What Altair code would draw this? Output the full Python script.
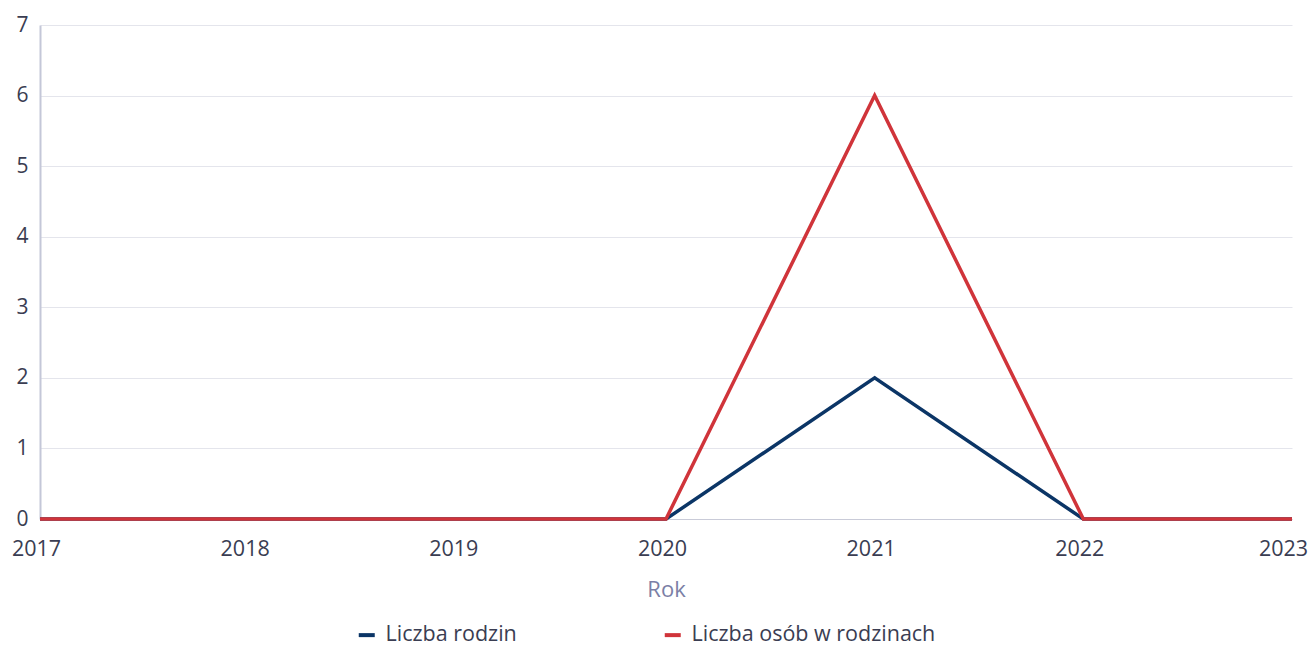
import altair as alt
import pandas as pd

years = [2017, 2018, 2019, 2020, 2021, 2022, 2023]
rodziny = [0, 0, 0, 0, 2, 0, 0]
osoby = [0, 0, 0, 0, 6, 0, 0]
series_names = ["Liczba rodzin", "Liczba osób w rodzinach"]
colors = ["#0b3566", "#d0343a"]

rows = []
for i, y in enumerate(years):
    rows.append({"Rok": y, "Seria": series_names[0], "Wartość": rodziny[i], "o": 0})
for i, y in enumerate(years):
    rows.append({"Rok": y, "Seria": series_names[1], "Wartość": osoby[i], "o": 1})
df = pd.DataFrame(rows)

FONT = "Open Sans"

chart = (
    alt.Chart(df)
    .mark_line(strokeWidth=3.5)
    .encode(
        x=alt.X(
            "Rok:Q",
            scale=alt.Scale(domain=[2017, 2023], nice=False, zero=False),
            axis=alt.Axis(
                title="Rok",
                values=years,
                format="d",
                grid=False,
                ticks=False,
                domain=True,
                domainColor="#c9cbd8",
                labelPadding=19,
                labelFlush=False,
                labelOffset=alt.condition(
                    "datum.value == 2023", alt.value(-9), alt.value(-4)
                ),
                titlePadding=20,
                titleColor="#7b7fa6",
                titleFontWeight="normal",
                titleFontSize=22,
                labelFontSize=21.5,
                labelColor="#3a3d52",
            ),
        ),
        y=alt.Y(
            "Wartość:Q",
            scale=alt.Scale(domain=[0, 7], nice=False),
            axis=alt.Axis(
                title=None,
                values=[0, 1, 2, 3, 4, 5, 6, 7],
                grid=True,
                gridColor="#e4e5ec",
                ticks=False,
                domain=True,
                domainColor="#c4c7d8",
                domainWidth=2,
                labelPadding=12,
                labelFontSize=21,
                labelColor="#3a3d52",
            ),
        ),
        color=alt.Color(
            "Seria:N",
            scale=alt.Scale(domain=series_names, range=colors),
            legend=alt.Legend(
                title=None,
                orient="none",
                legendX=316,
                legendY=599,
                direction="horizontal",
                symbolType="stroke",
                symbolStrokeWidth=4,
                symbolSize=256,
                labelOffset=8,
                labelFontSize=21.5,
                labelColor="#3a3d52",
                columnPadding=139,
                labelLimit=400,
            ),
        ),
        order=alt.Order("o:Q"),
        detail="Seria:N",
    )
    .properties(
        width=1252,
        height=494,
        padding={"left": 32, "top": 17, "right": 16, "bottom": 128},
        autosize=alt.AutoSizeParams(type="none"),
    )
    .configure(font=FONT)
    .configure_view(stroke=None)
)

chart.save("out.html", embed_options={"renderer": "svg", "actions": False})
